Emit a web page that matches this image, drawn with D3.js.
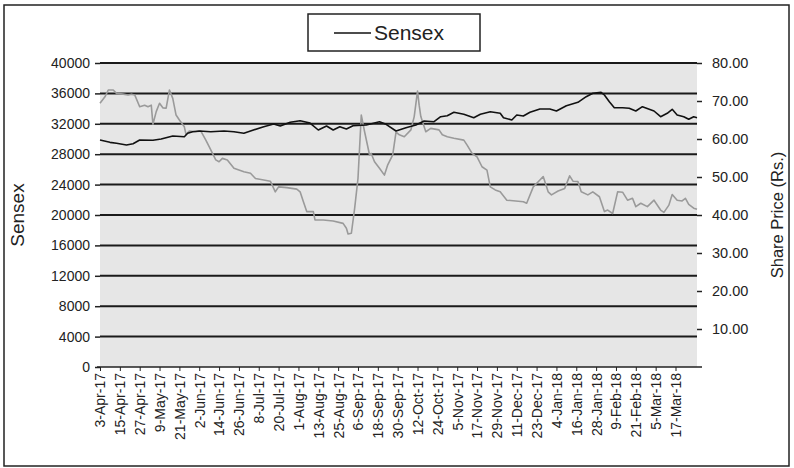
<!DOCTYPE html>
<html><head><meta charset="utf-8">
<script src="https://cdn.jsdelivr.net/npm/d3@7"></script>
<style>body{margin:0;background:#fff}svg{display:block;font-family:"Liberation Sans",Arial,sans-serif}</style>
</head><body><svg id="c" width="794" height="468"></svg>
<script>
const sensexDates = ["2017-04-03","2017-04-09","2017-04-13","2017-04-19","2017-04-23","2017-04-27","2017-05-05","2017-05-10","2017-05-17","2017-05-24","2017-05-26","2017-05-29","2017-06-02","2017-06-09","2017-06-17","2017-06-23","2017-06-29","2017-07-03","2017-07-11","2017-07-17","2017-07-21","2017-07-27","2017-08-02","2017-08-08","2017-08-13","2017-08-18","2017-08-22","2017-08-26","2017-08-30","2017-09-03","2017-09-11","2017-09-19","2017-09-23","2017-09-29","2017-10-05","2017-10-11","2017-10-16","2017-10-22","2017-10-26","2017-10-30","2017-11-03","2017-11-09","2017-11-15","2017-11-19","2017-11-25","2017-12-01","2017-12-03","2017-12-08","2017-12-11","2017-12-15","2017-12-19","2017-12-25","2017-12-31","2018-01-04","2018-01-10","2018-01-17","2018-01-22","2018-01-26","2018-01-31","2018-02-02","2018-02-05","2018-02-08","2018-02-13","2018-02-17","2018-02-21","2018-02-25","2018-03-04","2018-03-08","2018-03-12","2018-03-15","2018-03-18","2018-03-22","2018-03-25","2018-03-28","2018-03-30"];
const sensexValues = [29870,29560,29434,29210,29381,29870,29829,30000,30395,30303,30750,30960,31053,30960,31053,30960,30750,31053,31618,31974,31710,32197,32408,32100,31184,31711,31184,31618,31316,31750,31842,32276,31934,31053,31487,31842,32368,32276,32934,33066,33513,33250,32803,33250,33592,33382,32803,32500,33158,33026,33513,33947,33947,33684,34382,34829,35566,36013,36145,35789,34908,34118,34118,34040,33684,34250,33684,32934,33382,33908,33158,32934,32592,32934,32803];
const priceDates = ["2017-04-03","2017-04-06","2017-04-08","2017-04-11","2017-04-13","2017-04-17","2017-04-20","2017-04-22","2017-04-24","2017-04-27","2017-04-30","2017-05-02","2017-05-04","2017-05-05","2017-05-07","2017-05-09","2017-05-11","2017-05-13","2017-05-15","2017-05-17","2017-05-19","2017-05-21","2017-05-24","2017-05-25","2017-05-27","2017-05-31","2017-06-03","2017-06-06","2017-06-08","2017-06-12","2017-06-14","2017-06-16","2017-06-19","2017-06-23","2017-06-29","2017-07-03","2017-07-06","2017-07-11","2017-07-15","2017-07-18","2017-07-20","2017-07-25","2017-07-31","2017-08-02","2017-08-04","2017-08-06","2017-08-10","2017-08-11","2017-08-16","2017-08-22","2017-08-28","2017-08-30","2017-08-31","2017-09-02","2017-09-04","2017-09-06","2017-09-08","2017-09-10","2017-09-13","2017-09-14","2017-09-16","2017-09-19","2017-09-22","2017-09-24","2017-09-27","2017-09-29","2017-10-01","2017-10-04","2017-10-08","2017-10-10","2017-10-12","2017-10-13","2017-10-14","2017-10-17","2017-10-20","2017-10-25","2017-10-27","2017-10-30","2017-11-03","2017-11-09","2017-11-11","2017-11-14","2017-11-17","2017-11-20","2017-11-23","2017-11-25","2017-11-28","2017-12-01","2017-12-05","2017-12-15","2017-12-17","2017-12-21","2017-12-25","2017-12-27","2017-12-30","2018-01-01","2018-01-05","2018-01-09","2018-01-12","2018-01-14","2018-01-17","2018-01-19","2018-01-23","2018-01-26","2018-01-30","2018-02-02","2018-02-04","2018-02-07","2018-02-10","2018-02-13","2018-02-16","2018-02-19","2018-02-21","2018-02-24","2018-02-28","2018-03-04","2018-03-08","2018-03-10","2018-03-13","2018-03-15","2018-03-18","2018-03-21","2018-03-23","2018-03-25","2018-03-28","2018-03-30"];
const priceValues = [69.4,71.1,72.9,72.9,72.0,71.8,71.6,71.8,71.6,68.5,68.9,68.5,68.9,63.9,67.2,69.4,68.2,68.1,72.9,70.7,66.3,65.0,63.2,61.2,62.1,61.9,62.1,59.7,58.0,54.5,54.0,54.9,54.5,52.3,51.4,51.0,49.6,49.2,48.9,46.1,47.4,47.2,46.8,46.1,43.5,40.9,40.9,38.7,38.7,38.4,37.8,36.5,35.0,35.2,41.8,49.6,66.3,61.9,55.8,56.2,54.0,52.3,50.5,53.2,55.8,61.8,61.1,60.6,62.4,65.9,72.6,68.9,65.9,61.9,62.8,62.4,61.1,60.6,60.2,59.7,58.4,56.2,55.3,52.7,51.8,47.4,46.6,46.1,43.9,43.5,43.1,47.4,49.2,50.1,46.1,45.3,46.3,47.0,50.3,48.9,48.8,46.1,45.3,46.1,44.8,40.9,41.3,40.4,46.1,46.0,43.9,44.4,42.2,43.1,42.2,43.9,41.3,40.7,42.6,45.4,43.9,43.7,44.4,42.8,41.8,41.5];
const xTickDates = ["2017-04-03","2017-04-15","2017-04-27","2017-05-09","2017-05-21","2017-06-02","2017-06-14","2017-06-26","2017-07-08","2017-07-20","2017-08-01","2017-08-13","2017-08-25","2017-09-06","2017-09-18","2017-09-30","2017-10-12","2017-10-24","2017-11-05","2017-11-17","2017-11-29","2017-12-11","2017-12-23","2018-01-04","2018-01-16","2018-01-28","2018-02-09","2018-02-21","2018-03-05","2018-03-17"];
const leftTicks = [0,4000,8000,12000,16000,20000,24000,28000,32000,36000,40000];
const rightTicks = [10,20,30,40,50,60,70,80];
const seriesName = "Sensex";
const leftTitle = "Sensex";
const rightTitle = "Share Price (Rs.)";

const parse = d3.utcParse("%Y-%m-%d");
const fmt = d3.utcFormat("%-d-%b-%y");
const svg = d3.select("#c");
const L = 100, R = 697, T = 63, B = 367;

const x = d3.scaleUtc().domain([parse("2017-04-03"), parse("2018-03-30")]).range([L, R]);
const yL = d3.scaleLinear().domain([0, 40000]).range([B, T]);
const yR = d3.scaleLinear().domain([0, 80]).range([B, T]);

// outer frame
svg.append("rect").attr("x", 4).attr("y", 5).attr("width", 785).attr("height", 461)
  .attr("fill", "#fff").attr("stroke", "#222").attr("stroke-width", 1.5);

// plot background
svg.append("rect").attr("x", L).attr("y", T).attr("width", R - L).attr("height", B - T).attr("fill", "#e6e6e6");

// gridlines
svg.append("g").selectAll("line").data(leftTicks.filter(d => d > 0)).join("line")
  .attr("x1", L).attr("x2", R).attr("y1", d => yL(d)).attr("y2", d => yL(d))
  .attr("stroke", "#1a1a1a").attr("stroke-width", 2);

// left axis
const gL = svg.append("g").attr("transform", `translate(${L},0)`)
  .call(d3.axisLeft(yL).tickValues(leftTicks).tickSize(5).tickPadding(5).tickFormat(d3.format("d")));
gL.select(".domain").remove();
gL.selectAll("line").attr("stroke", "#222").attr("stroke-width", 1.5);
gL.selectAll("text").attr("font-size", 14).attr("fill", "#222").attr("font-family", '"Liberation Sans",Arial,sans-serif');

// right axis
const gR = svg.append("g").attr("transform", `translate(${R},0)`)
  .call(d3.axisRight(yR).tickValues(rightTicks).tickSize(5).tickPadding(10).tickFormat(d3.format(".2f")));
gR.select(".domain").remove();
gR.selectAll("line").attr("stroke", "#222").attr("stroke-width", 1.5);
gR.selectAll("text").attr("font-size", 14.5).attr("fill", "#222").attr("font-family", '"Liberation Sans",Arial,sans-serif');

// bottom axis
const gB = svg.append("g").attr("transform", `translate(0,${B})`)
  .call(d3.axisBottom(x).tickValues(xTickDates.map(parse)).tickSize(4).tickFormat(fmt));
gB.select(".domain").attr("d", `M${L - 3},0H${R + 5}`).attr("stroke", "#222").attr("stroke-width", 1.5);
gB.selectAll("line").attr("stroke", "#222");
gB.selectAll("text").attr("font-size", 14).attr("fill", "#222")
  .attr("font-family", '"Liberation Sans",Arial,sans-serif')
  .attr("transform", "rotate(-90)").attr("text-anchor", "end")
  .attr("x", -6).attr("y", 0).attr("dy", "0.35em");

// lines
const priceLine = d3.line().x((d, i) => x(parse(priceDates[i]))).y(d => yR(d));
svg.append("path").datum(priceValues).attr("d", priceLine).attr("fill", "none")
  .attr("stroke", "#9a9a9a").attr("stroke-width", 1.6).attr("stroke-linejoin", "round");
const sensexLine = d3.line().x((d, i) => x(parse(sensexDates[i]))).y(d => yL(d));
svg.append("path").datum(sensexValues).attr("d", sensexLine).attr("fill", "none")
  .attr("stroke", "#111").attr("stroke-width", 1.6).attr("stroke-linejoin", "round");

// axis titles
svg.append("text").attr("transform", `translate(24,215) rotate(-90)`).attr("text-anchor", "middle")
  .attr("font-size", 19).attr("fill", "#222").text(leftTitle);
svg.append("text").attr("transform", `translate(783,215) rotate(-90)`).attr("text-anchor", "middle")
  .attr("font-size", 16.5).attr("fill", "#222").text(rightTitle);

// legend
const lg = svg.append("g");
lg.append("rect").attr("x", 308).attr("y", 14).attr("width", 172).attr("height", 37)
  .attr("fill", "#fff").attr("stroke", "#222").attr("stroke-width", 1.5);
lg.append("line").attr("x1", 334).attr("x2", 371).attr("y1", 33).attr("y2", 33).attr("stroke", "#111").attr("stroke-width", 1.6);
lg.append("text").attr("x", 374).attr("y", 40).attr("font-size", 21).attr("fill", "#222").text(seriesName);
</script></body></html>
